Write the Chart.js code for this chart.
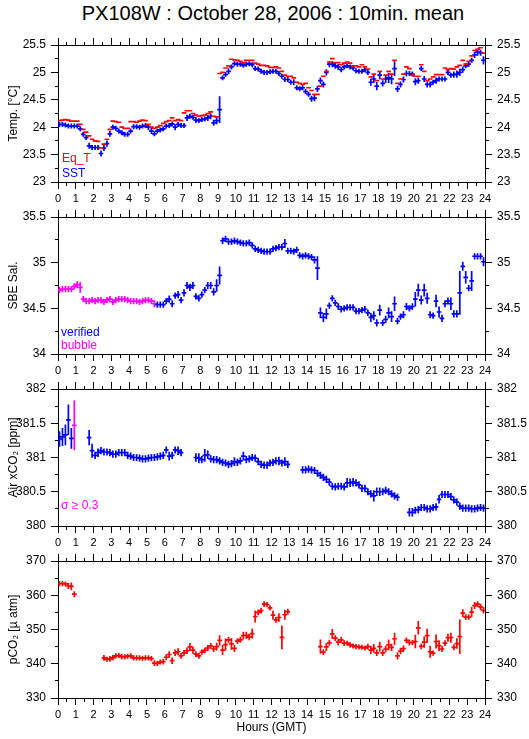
<!DOCTYPE html>
<html><head><meta charset="utf-8"><title>PX108W : October 28, 2006 : 10min. mean</title>
<script src="https://cdn.jsdelivr.net/npm/chart.js@4.4.1/dist/chart.umd.min.js"></script>
<style>
html,body{margin:0;padding:0;background:#fff;}
body{width:529px;height:739px;overflow:hidden;position:relative;font-family:'Liberation Sans','DejaVu Sans',Arial,sans-serif;}
canvas{position:absolute;left:0;}
.lbl{position:absolute;white-space:nowrap;font-size:12px;line-height:12px;}
#title{position:absolute;left:0;top:2px;width:546px;text-align:center;font-size:20px;line-height:22px;color:#000;white-space:nowrap;}
</style></head>
<body>
<div id="title">PX108W : October 28, 2006 : 10min. mean</div>
<canvas id="p0" width="529" height="200" style="top:25px"></canvas>
<canvas id="p1" width="529" height="200" style="top:197px"></canvas>
<canvas id="p2" width="529" height="200" style="top:369px"></canvas>
<canvas id="p3" width="529" height="200" style="top:541px"></canvas>
<div class="lbl" style="left:62px;top:152px;color:#ff0000">Eq_T</div>
<div class="lbl" style="left:62px;top:167px;color:#0000ff">SST</div>
<div class="lbl" style="left:61px;top:326px;color:#0000ff">verified</div>
<div class="lbl" style="left:61px;top:339px;color:#ff00ff">bubble</div>
<div class="lbl" style="left:61px;top:499px;color:#ff00ff">σ ≥ 0.3</div>
<script>
// ---- categories: 10-minute slots over 24 hours (slot k covers k*10 .. k*10+10 min)
const SLOT_MINUTES = 10;
const HOUR_TICKS = [0,1,2,3,4,5,6,7,8,9,10,11,12,13,14,15,16,17,18,19,20,21,22,23,24];

// ---- Panel 1: temperatures (°C), one row per hour, 6 slots each
const eqT = [
 24.12,24.13,24.14,24.13,24.11,24.11, 24.11,24.05,23.96,23.91,23.84,23.78,
 23.75,23.74,23.62,23.69,23.78,23.96, 24.11,24.10,24.09,24.00,23.98,23.98,
 24.10,24.10,24.09,24.11,24.13,24.12, 24.05,24.00,23.98,24.00,24.03,24.07,
 24.10,24.12,24.17,24.12,24.14,24.12, 24.26,24.30,24.30,24.25,24.22,24.20,
 24.21,24.22,24.25,24.28,24.20,24.19, 24.98,25.00,25.08,25.12,25.24,25.23,
 25.22,25.20,25.18,25.22,25.22,25.22, 25.17,25.15,25.13,25.13,25.12,25.09,
 25.09,25.10,25.08,25.02,24.95,24.93, 24.93,24.90,24.82,24.80,24.78,24.80,
 24.72,24.67,24.60,24.60,24.75,24.93, 25.02,25.19,25.25,25.18,25.18,25.14,
 25.17,25.19,25.17,25.12,25.12,25.10, 25.14,25.10,25.06,24.92,24.97,24.85,
 25.02,24.88,24.95,25.02,24.97,25.22, 24.80,24.88,24.97,25.10,25.07,24.95,
 24.93,24.93,25.14,25.02,24.85,24.88, 24.92,24.96,24.96,24.96,25.08,25.05,
 25.07,25.06,25.10,25.13,25.22,25.15, 25.20,25.30,25.40,25.42,25.45,25.35
];
const sst = [
 24.05,24.05,24.04,24.02,24.02,24.02, 24.02,23.97,23.87,23.81,23.66,23.63,
 23.63,23.63,23.52,23.62,23.70,23.88, 24.00,23.98,23.93,23.90,23.87,23.87,
 23.93,24.01,24.01,24.00,24.02,24.03, 24.00,23.93,23.88,23.93,23.95,23.97,
 24.02,24.03,24.06,24.00,24.05,24.03, 24.03,24.17,24.20,24.18,24.13,24.12,
 24.14,24.15,24.17,24.20,24.08,24.12, 24.32,24.90,24.96,25.02,25.10,25.16,
 25.15,25.15,25.13,25.15,25.16,25.14, 25.07,25.06,25.02,25.00,25.00,25.01,
 25.02,25.02,24.98,24.93,24.87,24.87, 24.82,24.82,24.72,24.70,24.72,24.65,
 24.60,24.52,24.53,24.70,24.85,24.78, 25.00,25.15,25.15,25.12,25.10,25.05,
 25.10,25.12,25.10,25.08,25.03,25.02, 25.02,25.05,25.00,24.82,24.88,24.75,
 24.95,24.80,24.88,24.90,24.88,25.07, 24.70,24.78,24.87,24.98,24.98,24.97,
 24.83,24.85,25.07,24.88,24.78,24.78, 24.82,24.85,24.88,24.88,24.88,25.00,
 24.95,24.96,24.97,25.00,25.05,25.12, 25.15,25.22,25.32,25.37,25.36,25.22
];
const sstSd = [
 .03,.03,.03,.03,.03,.03, .03,.03,.03,.03,.04,.03,
 .03,.03,.04,.04,.04,.04, .03,.03,.03,.03,.03,.03,
 .03,.03,.03,.03,.03,.03, .04,.04,.03,.03,.03,.03,
 .03,.03,.03,.04,.03,.03, .03,.04,.03,.03,.04,.03,
 .03,.03,.04,.04,.04,.05, .23,.03,.03,.04,.03,.03,
 .03,.03,.03,.03,.03,.03, .03,.03,.03,.03,.03,.03,
 .03,.03,.03,.03,.03,.03, .03,.04,.03,.03,.03,.03,
 .03,.04,.04,.04,.04,.04, .04,.04,.04,.04,.04,.03,
 .03,.03,.03,.03,.03,.03, .03,.03,.03,.05,.06,.06,
 .06,.04,.06,.08,.08,.12, .04,.04,.04,.04,.03,.03,
 .05,.04,.03,.04,.04,.04, .03,.04,.03,.03,.03,.03,
 .03,.04,.05,.05,.04,.03, .03,.03,.04,.05,.04,.06
];

// ---- Panel 2: SBE salinity
const salinity = [
 34.70,34.71,34.71,34.71,34.71,34.74, 34.76,34.73,34.60,34.58,34.58,34.59,
 34.58,34.59,34.59,34.57,34.59,34.60, 34.57,34.59,34.60,34.60,34.60,34.59,
 34.58,34.58,34.58,34.57,34.58,34.59, 34.59,34.58,34.55,34.54,34.54,34.54,
 34.58,34.60,34.55,34.64,34.65,34.59, 34.67,34.75,34.73,34.75,34.63,34.61,
 34.65,34.70,34.75,34.75,34.68,34.75, 34.86,35.24,35.26,35.23,35.23,35.24,
 35.23,35.22,35.21,35.21,35.22,35.19, 35.15,35.14,35.13,35.12,35.12,35.12,
 35.15,35.16,35.17,35.17,35.21,35.13, 35.13,35.12,35.14,35.08,35.07,35.08,
 35.07,35.06,35.03,34.94,34.45,34.40, 34.44,34.53,34.61,34.56,34.52,34.49,
 34.50,34.51,34.51,34.51,34.47,34.47, 34.48,34.49,34.45,34.40,34.42,34.34,
 34.48,34.34,34.38,34.45,34.41,34.55, 34.36,34.41,34.43,34.52,34.50,34.52,
 34.60,34.70,34.59,34.70,34.61,34.43, 34.42,34.58,34.46,34.39,34.55,34.58,
 34.55,34.44,34.44,34.67,34.96,34.84, 34.72,34.80,35.07,35.07,35.07,35.01
];
const salinitySd = [
 .025,.025,.025,.025,.025,.025, .03,.05,.025,.025,.025,.025,
 .025,.025,.025,.025,.025,.025, .025,.025,.025,.025,.025,.025,
 .025,.025,.025,.025,.025,.025, .025,.025,.03,.025,.025,.025,
 .025,.03,.03,.025,.03,.025, .03,.03,.03,.03,.025,.025,
 .025,.025,.03,.03,.03,.06, .09,.025,.025,.025,.025,.025,
 .025,.025,.025,.025,.025,.025, .025,.025,.025,.025,.025,.025,
 .025,.025,.025,.025,.04,.025, .025,.025,.025,.025,.025,.025,
 .025,.025,.03,.12,.05,.04, .05,.025,.025,.025,.025,.025,
 .025,.025,.025,.025,.025,.025, .025,.025,.025,.04,.04,.03,
 .05,.025,.03,.05,.05,.07, .025,.025,.03,.03,.025,.025,
 .07,.06,.04,.06,.05,.03, .025,.06,.05,.03,.03,.03,
 .06,.03,.03,.23,.04,.06, .025,.10,.025,.025,.025,.04
];
const bubbleEndHour = 5.5; // slots before this hour are flagged "bubble"

// ---- Panel 3: Air xCO2 (ppm)
const airXco2 = [
 381.27,381.30,381.33,381.55,381.28,381.47, null,null,null,null,381.29,381.10,
 381.03,381.07,381.10,381.08,381.08,381.07, 381.05,381.05,381.07,381.07,381.07,381.03,
 381.02,381.00,381.00,380.99,380.98,380.98, 380.99,381.00,381.00,381.01,381.02,381.03,
 381.11,381.02,381.03,381.11,381.10,381.07, null,null,null,null,381.00,380.99,
 380.97,381.03,381.04,380.98,380.97,380.97, 380.95,380.93,380.92,380.90,380.91,380.94,
 380.93,380.95,381.02,380.97,380.98,381.00, 380.99,380.94,380.90,380.89,380.89,380.92,
 380.93,380.95,380.95,380.92,380.94,380.90, null,null,null,null,380.82,380.82,
 380.83,380.82,380.81,380.77,380.74,380.71, 380.68,380.64,380.58,380.57,380.58,380.58,
 380.57,380.63,380.63,380.64,380.63,380.60, 380.55,380.55,380.50,380.47,380.44,380.50,
 380.50,380.50,380.52,380.50,380.47,380.44, 380.42,null,null,null,380.20,380.20,
 380.23,380.24,380.27,380.27,380.25,380.25, 380.27,380.28,380.39,380.46,380.46,380.46,
 380.43,380.38,380.35,380.29,380.26,380.26, 380.26,380.25,380.25,380.26,380.27,380.26
];
const airXco2Sd = [
 .10,.12,.14,.21,.14,.35, 0,0,0,0,.10,.09,
 .04,.05,.04,.04,.04,.04, .04,.04,.04,.04,.04,.04,
 .04,.04,.04,.04,.04,.04, .04,.04,.04,.04,.04,.04,
 .04,.05,.04,.04,.05,.04, 0,0,0,0,.05,.06,
 .04,.08,.05,.04,.04,.04, .04,.04,.04,.04,.04,.05,
 .04,.04,.05,.04,.04,.04, .04,.04,.04,.04,.04,.04,
 .04,.04,.05,.04,.05,.04, 0,0,0,0,.04,.04,
 .04,.04,.04,.04,.04,.04, .04,.04,.04,.04,.04,.04,
 .04,.06,.05,.05,.04,.04, .04,.04,.04,.04,.07,.05,
 .05,.04,.04,.04,.04,.04, .04,0,0,0,.05,.05,
 .04,.04,.04,.04,.04,.04, .04,.04,.05,.04,.04,.04,
 .04,.04,.04,.04,.04,.04, .04,.04,.04,.04,.04,.04
];
const sigmaFlagLimit = 0.3;

// ---- Panel 4: pCO2 (µatm)
const pco2 = [
 363.4,363.4,363.3,362.7,362.6,360.3, null,null,null,null,null,null,
 null,null,null,341.7,341.3,341.4, 341.8,342.3,342.4,342.1,342.0,342.2,
 342.3,341.7,341.7,341.7,341.6,341.7, 341.7,341.5,340.2,340.1,340.5,340.6,
 341.9,342.7,340.9,343.2,343.5,342.3, 343.2,343.8,344.9,344.0,342.8,342.3,
 343.4,343.9,344.6,345.2,344.3,345.0, 346.8,344.0,345.6,347.0,345.8,344.5,
 346.6,347.0,348.2,348.3,347.8,348.8, 353.8,355.0,355.5,357.4,357.3,356.3,
 354.2,352.8,353.5,347.7,354.3,355.2, null,null,null,null,null,null,
 null,null,null,null,345.0,343.4, 344.9,346.1,348.7,347.5,346.3,347.0,
 346.0,346.0,345.5,345.2,345.0,344.9, 344.8,344.6,345.0,344.0,344.5,343.2,
 345.0,343.2,344.3,345.5,344.8,347.3, 342.3,343.7,344.4,346.8,346.2,346.2,
 346.5,350.5,345.1,346.3,348.2,343.5, 343.1,346.5,345.3,344.3,346.0,347.6,
 347.6,344.8,345.9,347.9,354.8,353.6, 353.6,355.1,357.0,357.4,356.6,355.6
];
const pco2Sd = [
 .5,.5,.5,.6,.9,.6, 0,0,0,0,0,0,
 0,0,0,.6,.5,.6, .5,.5,.5,.6,.5,.5,
 .5,.5,.5,.5,.5,.5, .5,.5,.6,.5,.5,.6,
 .6,.7,.7,.7,.8,.6, .6,.7,.9,.8,.6,.6,
 .5,.6,.6,.6,.6,.9, 1.3,1.2,1.5,.6,1.5,.8,
 .6,.6,.9,.8,.7,1.2, 1.5,.6,.6,.6,.5,.5,
 1.0,.6,1.0,3.2,1.2,.6, 0,0,0,0,0,0,
 0,0,0,0,1.8,.6, .9,.6,1.2,.6,.7,.6,
 .6,.5,.5,.5,.5,.5, .5,.5,.6,1.0,1.0,.7,
 1.2,.7,.7,1.3,.8,1.5, .8,.7,.7,.6,.6,.5,
 1.7,1.7,.6,1.4,1.8,1.5, .5,1.8,1.3,.6,.6,.9,
 1.2,.6,1.3,4.8,.9,.6, .6,1.2,.8,.6,.7,.7
];

// ---- helpers
const FONT = "'Liberation Sans','DejaVu Sans',Arial,sans-serif";
const TL = 7, MINOR = 3;
const slotStart = k => k * SLOT_MINUTES / 60;
const isMult = (v, m) => Math.abs(v / m - Math.round(v / m)) < 1e-6;
const fmt = v => String(+v.toFixed(2));

// each 10-min mean is drawn as a "+": horizontal bar over its slot, vertical bar of ±sd
function crosses(values, sds, keep) {
  const pts = [];
  values.forEach((v, k) => {
    if (v === null || !keep(k)) return;
    const t0 = slotStart(k), t1 = slotStart(k + 1), tc = (t0 + t1) / 2;
    pts.push({x: t0, y: v}, {x: t1, y: v}, {x: tc, y: null});
    const s = sds ? sds[k] : 0;
    if (s > 0) pts.push({x: tc, y: v - s}, {x: tc, y: v + s}, {x: tc, y: null});
  });
  return pts;
}
function ds(data, color) {
  return {data, borderColor: color, backgroundColor: color, borderWidth: 1.7,
          borderCapStyle: 'square', pointRadius: 0, pointHoverRadius: 0,
          spanGaps: false, tension: 0, fill: false};
}
function grid(major, outerFirst) {
  return {
    display: true, drawOnChartArea: false, drawTicks: true, tickLength: TL,
    color: '#000', tickColor: '#000', tickWidth: 1,
    tickBorderDash: c => (c.tick && isMult(c.tick.value, major)) ? [] :
      (outerFirst ? [0, TL - MINOR, MINOR, 50] : [MINOR, 50])
  };
}
function makeChart(id, datasets, y, yTitle, xTitle) {
  const border = {display: true, color: '#000', width: 1};
  const xTick = {stepSize: 0.5, autoSkip: false, maxRotation: 0, minRotation: 0, maxTicksLimit: 200,
                 color: '#000', font: {family: FONT, size: 11}, padding: 3,
                 callback: v => (HOUR_TICKS.includes(v) ? String(v) : '')};
  const yTick = {stepSize: y.minor, autoSkip: false, maxTicksLimit: 200, color: '#000',
                 font: {family: FONT, size: 12}, padding: 5,
                 callback: v => (isMult(v, y.major) ? fmt(v) : '')};
  return new Chart(document.getElementById(id), {
    type: 'line',
    data: {datasets},
    options: {
      responsive: false, animation: false, events: [],
      layout: {padding: 0, autoPadding: false},
      plugins: {legend: {display: false}, tooltip: {enabled: false}, title: {display: false}},
      scales: {
        x: {type: 'linear', position: 'bottom', min: 0, max: 24, ticks: xTick,
            grid: grid(1, false), border,
            title: {display: !!xTitle, text: xTitle || '', color: '#000',
                    font: {family: FONT, size: 12}, padding: {top: 0, bottom: 6}},
            afterFit: s => { s.height = 43; }},
        xTop: {type: 'linear', position: 'top', min: 0, max: 24,
            ticks: Object.assign({}, xTick, {display: false}),
            grid: grid(1, true), border, afterFit: s => { s.height = 20; }},
        y: {type: 'linear', position: 'left', min: y.min, max: y.max, ticks: yTick,
            grid: grid(y.major, true), border,
            title: {display: true, text: yTitle, color: '#000',
                    font: {family: FONT, size: 12}, padding: {top: 6, bottom: 0}},
            afterFit: s => { s.width = 58; }},
        yRight: {type: 'linear', position: 'right', min: y.min, max: y.max, ticks: yTick,
            grid: grid(y.major, false), border, afterFit: s => { s.width = 44; }}
      }
    }
  });
}

const all = () => true;
makeChart('p0', [
  ds(crosses(eqT, null, all), '#ff0000'),
  ds(crosses(sst, sstSd, all), '#0000ff')
], {min: 23, max: 25.5, minor: 0.25, major: 0.5}, 'Temp. [°C]');

makeChart('p1', [
  ds(crosses(salinity, salinitySd, k => slotStart(k) >= bubbleEndHour), '#0000ff'),
  ds(crosses(salinity, salinitySd, k => slotStart(k) < bubbleEndHour), '#ff00ff')
], {min: 34, max: 35.5, minor: 0.25, major: 0.5}, 'SBE Sal.');

makeChart('p2', [
  ds(crosses(airXco2, airXco2Sd, k => airXco2Sd[k] < sigmaFlagLimit), '#0000ff'),
  ds(crosses(airXco2, airXco2Sd, k => airXco2Sd[k] >= sigmaFlagLimit), '#ff00ff')
], {min: 380, max: 382, minor: 0.25, major: 0.5}, 'Air xCO₂ [ppm]');

makeChart('p3', [
  ds(crosses(pco2, pco2Sd, all), '#ff0000')
], {min: 330, max: 370, minor: 5, major: 10}, 'pCO₂ [µ atm]', 'Hours (GMT)');
</script>
</body></html>
